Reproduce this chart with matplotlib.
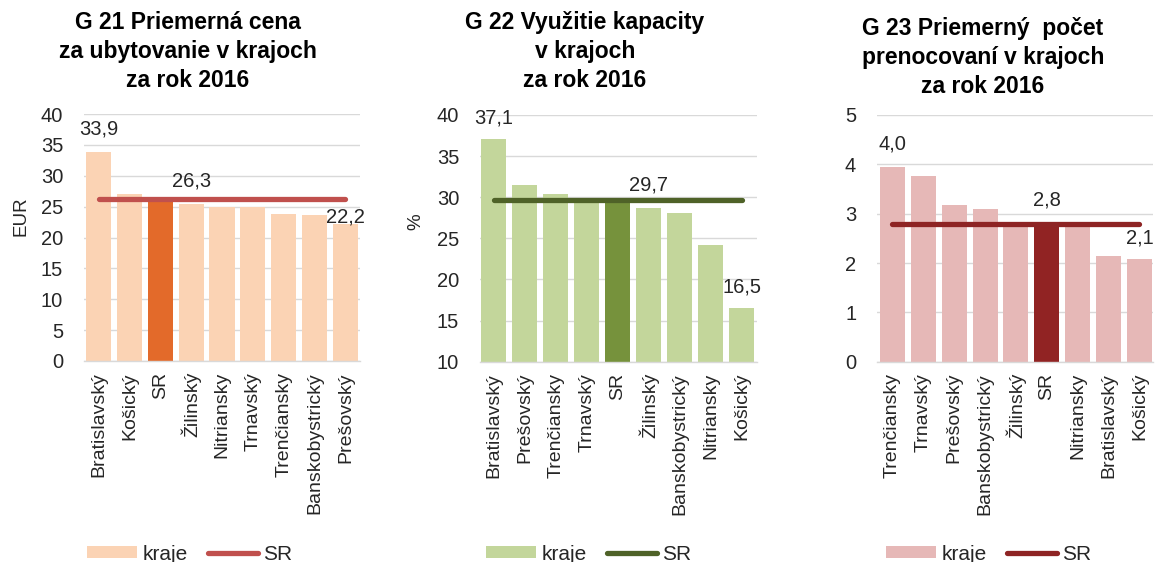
import matplotlib
matplotlib.use("Agg")
import matplotlib.pyplot as plt
from matplotlib.patches import Patch
from matplotlib.lines import Line2D

plt.rcParams['font.family'] = ['Liberation Sans', 'DejaVu Sans']

# ---- data ----
cats1 = ["Bratislavský", "Košický", "SR", "Žilinský", "Nitriansky", "Trnavský",
         "Trenčiansky", "Banskobystrický", "Prešovský"]
vals1 = [33.9, 27.1, 26.3, 25.5, 25.0, 24.9, 23.8, 23.6, 22.2]
sr1 = 26.3

cats2 = ["Bratislavský", "Prešovský", "Trenčiansky", "Trnavský", "SR", "Žilinský",
         "Banskobystrický", "Nitriansky", "Košický"]
vals2 = [37.1, 31.5, 30.4, 29.8, 29.7, 28.7, 28.1, 24.2, 16.5]
sr2 = 29.7

cats3 = ["Trenčiansky", "Trnavský", "Prešovský", "Banskobystrický", "Žilinský", "SR",
         "Nitriansky", "Bratislavský", "Košický"]
vals3 = [3.95, 3.77, 3.17, 3.09, 2.82, 2.8, 2.78, 2.15, 2.08]
sr3 = 2.8

titles = ["G 21 Priemerná cena\nza ubytovanie v krajoch\nza rok 2016",
          "G 22 Využitie kapacity\nv krajoch\nza rok 2016",
          "G 23 Priemerný  počet\nprenocovaní v krajoch\nza rok 2016"]
ylabels = ["EUR", "%", ""]
legend_labels = ["kraje", "SR"]

W, H = 1157, 562
fig = plt.figure(figsize=(W / 100, H / 100), dpi=100)

def fx(px):
    return px / W

def fy(py):
    return 1 - py / H

TXT = '#262626'

panels = [
    dict(cats=cats1, vals=vals1, sr=sr1, rect=(84, 114, 360, 361), ylim=(0, 40), step=5,
         light='#FBD3B4', dark='#E36A2A', line='#C0504D', xlim=(-0.47, 8.47),
         title_x=188, title_y=11, ylabel_pos=(21, 216), legend_x=87,
         labels=[(0, vals1[0], "33,9", 23), (3, sr1, "26,3", 18), (8, vals1[8], "22,2", 7)]),
    dict(cats=cats2, vals=vals2, sr=sr2, rect=(480, 115, 757, 361.7), ylim=(10, 40), step=5,
         light='#C3D69B', dark='#76923C', line='#4F6228', xlim=(-0.45, 8.5),
         title_x=585, title_y=11, ylabel_pos=(416, 222), legend_x=486,
         labels=[(0, vals2[0], "37,1", 21), (5, sr2, "29,7", 15), (8, vals2[8], "16,5", 21)]),
    dict(cats=cats3, vals=vals3, sr=sr3, rect=(877, 115, 1153, 361.7), ylim=(0, 5), step=1,
         light='#E6B8B7', dark='#912323', line='#8E2424', xlim=(-0.5, 8.44),
         title_x=983, title_y=17, ylabel_pos=None, legend_x=886,
         labels=[(0, 4.0, "4,0", 20), (5, sr3, "2,8", 24), (8, vals3[8], "2,1", 21)]),
]

for p, title, ylab in zip(panels, titles, ylabels):
    l, t, r, b = p['rect']
    ax = fig.add_axes([fx(l), fy(b), fx(r - l), (b - t) / H])
    n = len(p['cats'])
    xs = list(range(n))
    colors = [p['dark'] if c == "SR" else p['light'] for c in p['cats']]
    ax.bar(xs, [v - p['ylim'][0] for v in p['vals']], bottom=p['ylim'][0],
           width=0.81, color=colors, zorder=2)
    ax.plot(xs, [p['sr']] * n, color=p['line'], lw=3.8, solid_capstyle='round', zorder=3)
    ax.set_xlim(*p['xlim'])
    ax.set_ylim(*p['ylim'])
    lo, hi = p['ylim']
    ticks = []
    v = lo
    while v <= hi + 1e-9:
        ticks.append(v)
        v += p['step']
    ax.set_yticks(ticks)
    ax.set_yticklabels([f"{int(tk)}" for tk in ticks], fontsize=14.5, color=TXT)
    ax.set_xticks(xs)
    ax.set_xticklabels(p['cats'], rotation=90, fontsize=14, color=TXT, va='top')
    ax.tick_params(axis='both', length=0)
    ax.tick_params(axis='y', pad=15)
    ax.tick_params(axis='x', pad=8)
    ax.grid(axis='y', color='#D9D9D9', lw=1, zorder=0)
    for s in ['top', 'right', 'left']:
        ax.spines[s].set_visible(False)
    ax.spines['bottom'].set_color('#D9D9D9')
    ax.spines['bottom'].set_linewidth(1)
    ax.set_axisbelow(True)

    for (i, yv, txt, off) in p['labels']:
        ax.annotate(txt, (i, yv), xytext=(0, off), textcoords='offset pixels',
                    ha='center', va='center', fontsize=14.5, color=TXT, zorder=5,
                    annotation_clip=False)

    fig.text(fx(p['title_x']), fy(p['title_y']), title, ha='center', va='top',
             fontsize=16.5, fontweight='bold', color='black', linespacing=1.33)
    if p['ylabel_pos'] is not None:
        fig.text(fx(p['ylabel_pos'][0]), fy(p['ylabel_pos'][1]), ylab, rotation=90,
                 ha='center', va='center', fontsize=13.5, color=TXT)

    handles = [Patch(facecolor=p['light'], edgecolor='none'),
               Line2D([0], [0], color=p['line'], lw=3.8, solid_capstyle='round')]
    fig.legend(handles, legend_labels, loc='center left',
               bbox_to_anchor=(fx(p['legend_x']), fy(554)), ncol=2, frameon=False,
               fontsize=15, handlelength=2.4, handleheight=0.5, handletextpad=0.25,
               columnspacing=1.0, borderpad=0, borderaxespad=0, labelcolor=TXT)

fig.savefig("out.png", dpi=100)
